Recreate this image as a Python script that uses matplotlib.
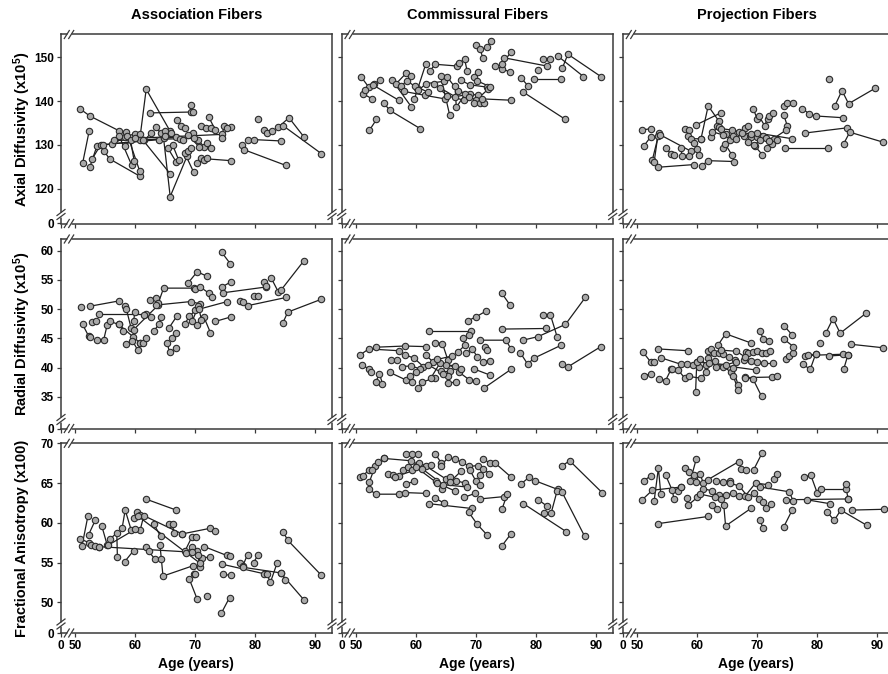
import matplotlib
matplotlib.use('Agg')
import matplotlib.pyplot as plt

plt.rcParams['font.family'] = ['Liberation Sans', 'DejaVu Sans']
plt.rcParams['font.weight'] = 'bold'
plt.rcParams['mathtext.fontset'] = 'custom'
plt.rcParams['mathtext.rm'] = 'Liberation Sans:bold'
plt.rcParams['mathtext.bf'] = 'Liberation Sans:bold'
plt.rcParams['mathtext.it'] = 'Liberation Sans:bold'

COLUMN_TITLES = ['Association Fibers', 'Commissural Fibers', 'Projection Fibers']
ROW_LABELS = [r'Axial Diffusivity (x10$^{5}$)', r'Radial Diffusivity (x10$^{5}$)',
              'Fractional Anisotropy (x100)']
X_LABEL = 'Age (years)'
X_TICKS = [50, 60, 70, 80, 90]
Y_TICKS = [[120, 130, 140, 150], [35, 40, 45, 50, 55, 60], [50, 55, 60, 65, 70]]
X_RANGE = (47.6, 92.77)
Y_RANGES = [(112.05, 155.2), (29.6, 62.0), (46.14, 70.0)]

# ---------------- Axial diffusivity ----------------
AD_ASSOC_AGE = [[50.8, 52.4, 57.3], [51.2, 52.3], [52.4, 53.6], [52.8, 54.2, 64.0], [54.7, 55.7, 60.8],
                [56.1, 58.3], [57.3, 59.4], [58.5, 60.7], [58.6, 59.9, 60.7], [58.3, 59.2, 59.8],
                [60.7, 61.8, 65.8], [62.4, 69.3], [61.4, 62.6], [63.4, 64.3, 65.0], [64.7, 65.8, 68.6],
                [61.2, 65.8], [65.4, 66.8], [67.0, 67.6, 68.2], [68.2, 69.7], [69.2, 69.6],
                [69.6, 70.4, 71.5], [70.9, 71.8, 72.6], [72.2, 73.3], [70.3, 71.0, 75.9], [71.5, 72.0],
                [71.9, 72.6], [60.0, 74.5, 76.0], [74.5, 74.7, 75.3], [77.7, 78.1, 85.1], [78.7, 79.8, 84.3],
                [80.4], [81.5, 81.9, 82.8], [83.8, 85.6, 88.1], [84.6, 91.0], [56.5, 69.8], [54.6, 66.8],
                [65.0, 66.0, 67.5], [68.0, 68.8, 70.6], [66.2, 67.2], [68.8, 69.2]]
AD_ASSOC_VAL = [[138.2, 136.6, 133.2], [125.8, 133.2], [124.9, 129.8], [126.8, 130.0, 131.2], [128.7, 126.8, 122.8],
                [130.1, 131.8], [132.0, 125.3], [132.9, 124.1], [132.0, 132.5, 132.5], [129.7, 131.0, 126.3],
                [131.0, 142.7, 133.1], [137.3, 137.5], [131.0, 132.6], [134.0, 132.6, 133.2], [131.5, 118.2, 127.4],
                [131.2, 123.4], [129.3, 126.1], [135.6, 134.3, 133.9], [128.2, 123.8], [139.0, 137.6],
                [132.7, 131.2, 129.5], [134.4, 133.9, 133.9], [136.4, 133.5], [125.9, 126.9, 126.4], [126.6, 127.1],
                [130.5, 129.2], [131.5, 132.4, 134.0], [131.6, 134.4, 133.9], [129.9, 128.9, 125.3], [131.2, 131.2, 130.9],
                [136.0], [133.5, 132.7, 133.1], [134.0, 136.2, 131.8], [134.4, 128.0], [131.0, 131.5], [130.0, 131.8],
                [132.0, 132.6, 131.4], [131.0, 132.2, 129.6], [130.0, 126.6], [128.5, 129.2]]

AD_COMM_AGE = [[50.8, 52.1, 54.0], [51.1, 52.7], [51.5, 53.0], [52.2, 53.4], [52.9, 57.1], [54.6, 55.6, 60.7],
               [56.0, 59.2], [56.7, 58.3, 59.1], [57.5, 58.5, 60.2], [59.7, 61.6], [58.0, 61.5, 64.8],
               [59.8, 62.0], [60.4, 61.7, 64.6], [62.3, 63.2, 66.9], [63.0, 65.2, 68.0], [64.0, 66.5, 69.0],
               [64.1, 65.6], [65.2, 67.0, 70.3], [66.5, 66.7, 68.2], [67.2, 68.1, 68.5], [67.5, 69.0, 71.8],
               [68.9, 70.0, 72.0], [69.7, 70.4], [69.7, 70.7, 71.3], [71.0, 75.8], [70.0, 70.7, 71.1],
               [71.9, 72.5], [70.2, 72.3], [73.1, 74.4, 75.6], [74.4, 75.8], [74.6, 81.8], [80.3],
               [77.5, 78.7], [79.6, 84.2], [77.8, 84.9], [81.2, 82.4], [83.6, 87.9], [84.4, 85.3, 90.8]]
AD_COMM_VAL = [[145.6, 143.2, 144.8], [141.7, 140.5], [142.5, 144.0], [133.3, 135.8], [143.6, 140.2], [139.6, 137.9, 133.7],
               [144.8, 138.7], [144.0, 146.3, 145.7], [143.5, 144.6, 143.0], [140.4, 148.4], [142.2, 141.3, 140.5],
               [143.5, 142.0], [142.5, 144.0, 144.5], [146.9, 148.4, 148.0], [144.0, 141.2, 140.2], [143.0, 141.0, 141.6],
               [145.7, 136.8], [145.5, 142.2, 141.3], [143.4, 138.6, 141.6], [148.8, 149.5, 146.9], [144.7, 143.7, 143.2],
               [141.0, 140.2, 142.7], [145.5, 146.7], [139.6, 139.5, 139.5], [140.5, 140.2], [152.8, 151.8, 149.9],
               [152.4, 153.7], [144.6, 143.3], [148.0, 147.4, 146.6], [148.5, 151.2], [149.9, 148.0], [147.0],
               [145.3, 143.4], [145.0, 145.0], [142.1, 135.8], [149.5, 149.5], [150.3, 145.6], [147.6, 150.7, 145.6]]

AD_PROJ_AGE = [[50.8, 52.2], [51.1, 52.2], [52.5, 53.6], [52.8, 53.4], [53.5, 59.4], [53.8, 59.0],
               [54.7, 55.6, 56.1], [57.2, 57.5, 58.6], [60.8, 61.7, 66.1], [57.9, 58.6], [59.7, 63.9],
               [58.4, 59.0, 60.6], [59.4, 59.9, 60.3], [60.6, 61.8, 63.6], [62.3, 63.3], [63.6, 64.0, 65.7, 67.0],
               [64.2, 64.6, 65.7], [64.8, 65.4], [68.0, 68.4], [67.8, 68.9, 70.0], [69.3, 70.0], [70.3, 71.2, 71.7],
               [72.0, 72.6], [70.9, 71.4, 72.8, 73.3], [69.6, 70.8], [71.6, 72.5], [74.4, 75.0, 76.0], [74.4, 75.0],
               [70.0, 75.8], [72.0, 74.8], [74.6, 81.8], [77.5, 78.6, 79.7, 84.3], [77.9, 85.0], [84.4, 85.4, 91.0],
               [81.9], [82.9, 84.1, 85.2, 89.6], [62.5, 64.2, 66.0], [66.5, 67.5, 69.0], [68.5, 69.4, 70.5]]
AD_PROJ_VAL = [[133.4, 133.7], [129.8, 131.8], [126.6, 132.7], [126.2, 132.0], [124.9, 125.5], [132.3, 128.5],
               [129.2, 128.0, 127.6], [129.2, 127.4, 127.4], [125.2, 126.4, 126.2], [133.7, 133.5], [134.5, 137.3],
               [132.0, 131.4, 131.4], [130.5, 129.0, 127.8], [131.4, 138.9, 135.4], [131.8, 134.3], [134.0, 133.7, 133.4, 133.0],
               [129.3, 130.3, 127.8], [132.5, 131.0], [133.9, 134.3], [132.0, 131.8, 131.9], [138.3, 135.8], [136.5, 134.4, 136.0],
               [136.6, 137.2], [132.0, 131.6, 131.4, 131.2], [129.7, 127.8], [129.2, 130.1], [138.9, 139.5, 139.5], [136.8, 134.3],
               [132.7, 131.4], [130.8, 133.4], [129.2, 129.2], [138.3, 137.1, 136.6, 136.2], [132.7, 133.9], [130.3, 132.9, 130.6],
               [145.1], [138.9, 142.4, 139.4, 142.9], [133.0, 132.3, 132.0], [131.4, 132.8, 132.5], [130.6, 130.0, 131.0]]

# ---------------- Radial diffusivity ----------------
RD_ASSOC_AGE = [[50.9], [52.4, 57.2], [51.2, 52.2, 52.5], [53.6, 54.7, 55.3], [55.8, 57.2, 58.0], [52.8, 53.5],
                [54.0, 61.8], [57.2, 59.6, 60.8], [58.2, 58.5, 59.3], [59.7, 59.9], [58.5, 59.5, 60.4],
                [60.8, 61.3, 61.8], [59.7, 63.8], [62.4, 63.4], [63.8, 64.7, 69.7], [63.1, 63.9, 64.3],
                [65.3, 65.7, 66.8], [66.1, 66.7], [65.6, 66.9], [63.4, 69.2, 70.8], [68.8, 70.3, 72.0],
                [70.0, 70.8, 72.3, 72.7], [68.2, 69.0, 70.0], [70.3, 71.4, 72.5], [69.5, 70.5, 71.0], [73.3, 76.0],
                [70.6, 75.3], [74.4, 75.8], [74.4, 76.0], [74.6, 81.8], [77.5, 77.9, 78.7, 85.1], [79.7, 80.4],
                [81.5, 81.8], [82.6, 83.8], [84.3, 88.1], [84.6, 85.4, 91.0], [61.5, 62.6]]
RD_ASSOC_VAL = [[50.3], [50.5, 51.4], [47.4, 45.4, 45.2], [44.7, 44.7, 47.3], [47.9, 47.4, 46.3], [47.8, 48.0],
                [49.1, 49.1], [47.4, 45.3, 44.2], [50.6, 50.0, 46.7], [47.9, 49.5], [44.1, 44.6, 43.0],
                [44.2, 44.3, 45.1], [46.5, 50.7], [51.6, 51.9], [51.0, 53.6, 53.6], [46.3, 47.4, 48.6],
                [44.2, 42.6, 43.3], [45.1, 45.9], [46.8, 48.8], [50.7, 51.3, 50.9], [54.5, 56.4, 55.6],
                [53.4, 53.8, 52.7, 52.0], [47.4, 48.8, 49.8], [47.3, 48.7, 46.0], [48.0, 50.6, 48.2], [47.9, 48.7],
                [50.0, 51.3], [59.7, 57.8], [53.8, 54.7], [52.8, 53.8], [51.4, 51.3, 50.6, 52.0], [52.3, 52.3],
                [54.6, 54.0], [55.4, 53.0], [53.3, 58.3], [47.7, 49.5, 51.7], [49.0, 48.6]]

RD_COMM_AGE = [[50.7, 52.1, 57.1], [53.3, 58.1, 61.7], [51.0, 52.2, 52.5], [53.3, 53.9, 54.4], [55.6, 58.3, 59.3],
               [55.9, 56.9], [58.2, 59.7, 61.2], [57.7, 59.2, 60.6], [60.3, 61.0, 63.1], [64.1, 65.6], [62.1, 69.2],
               [63.2, 64.4, 65.3], [67.0, 68.1], [61.6, 62.8], [65.3, 65.4, 66.6], [67.2, 68.9, 70.0], [71.3, 75.8],
               [67.8, 68.9], [68.6, 70.0, 71.7], [68.3, 69.4, 70.2], [71.1, 72.4], [69.6, 72.4], [70.7, 75.0, 75.8],
               [71.5, 71.9], [74.3, 75.6], [74.3, 81.7], [77.8, 80.3, 84.9, 88.2], [81.1, 82.4, 83.5],
               [77.4, 78.6, 79.6, 84.1], [84.3, 85.4, 90.8], [59.0, 62.0, 64.5], [62.5, 64.0, 67.5],
               [60.0, 63.5, 66.0], [65.0, 66.5]]
RD_COMM_VAL = [[42.2, 43.2, 42.9], [43.5, 43.7, 43.6], [40.5, 39.7, 39.2], [37.6, 39.0, 37.2], [39.2, 37.9, 37.6],
               [41.3, 41.3], [42.2, 41.6, 40.2], [40.2, 40.3, 39.8], [36.6, 37.5, 38.3], [39.5, 39.5], [46.3, 46.3],
               [44.3, 44.1, 41.3], [42.7, 43.8], [42.2, 41.0], [38.5, 37.3, 37.6], [39.2, 37.9, 37.7], [36.5, 39.7],
               [45.0, 45.6], [48.0, 48.7, 49.7], [42.5, 43.2, 41.8], [41.0, 41.2], [39.8, 38.7], [44.7, 44.7, 43.2],
               [43.5, 43.0], [52.7, 50.8], [46.6, 46.7], [44.7, 45.3, 47.4, 52.0], [49.0, 49.0, 45.3],
               [42.5, 40.6, 41.6, 43.8], [40.6, 40.2, 43.6], [38.5, 40.5, 39.0], [38.3, 40.8, 39.8],
               [39.2, 41.4, 42.0], [40.5, 40.3]]

RD_PROJ_AGE = [[50.9, 52.2, 52.8], [51.1, 52.3], [53.6, 54.7, 55.6], [53.5, 58.4], [53.9, 57.2, 58.3],
               [55.7, 56.8, 57.9], [58.6, 60.6, 61.4], [59.7, 59.9], [59.2, 60.2], [61.7, 62.2], [63.4, 64.7, 69.0],
               [61.8, 62.7, 63.6], [64.3, 65.2, 66.2], [63.1, 64.2, 65.6], [65.9, 66.8], [66.0, 66.8],
               [68.1, 68.5, 69.2], [69.9, 70.8, 71.5, 72.1], [70.4, 71.0, 71.9], [67.8, 69.0, 70.0], [71.1, 72.6],
               [67.9, 69.3, 70.7], [68.0, 72.5, 73.2], [59.9, 69.8], [74.7, 75.3, 76.0], [74.4, 75.8], [74.4, 76.0],
               [77.9, 79.7], [78.5, 84.3], [81.9, 85.1], [77.6, 78.8, 79.7], [80.4], [81.4, 82.6, 83.8, 88.1],
               [85.6, 91.0], [84.4, 85.1], [60.5, 61.5, 63.0], [62.0, 64.8, 66.5], [64.0, 66.5, 68.0]]
RD_PROJ_VAL = [[42.7, 41.0, 41.0], [38.6, 39.0], [38.1, 37.8, 39.7], [43.2, 42.9], [41.7, 40.6, 40.6],
               [39.8, 39.6, 38.2], [38.5, 38.2, 39.3], [35.9, 41.0], [40.4, 40.2], [42.9, 43.2], [43.8, 45.8, 44.2],
               [41.6, 42.5, 42.5], [42.4, 41.9, 41.3], [40.2, 40.2, 39.3], [40.0, 37.0], [38.5, 36.2],
               [42.7, 42.5, 42.6], [42.9, 42.5, 42.5, 42.9], [46.3, 44.9, 44.6], [41.3, 41.1, 41.0], [40.8, 40.8],
               [38.4, 38.0, 35.1], [38.3, 38.4, 38.6], [41.0, 39.6], [41.5, 42.0, 42.5], [47.2, 45.6], [44.9, 43.6],
               [42.0, 42.3], [42.1, 42.3], [42.0, 42.2], [40.6, 39.7, 42.3], [44.3], [45.9, 48.4, 45.9, 49.3],
               [44.0, 43.4], [39.8, 42.2], [41.5, 40.5, 41.2], [40.8, 40.5, 41.0], [43.0, 42.8, 41.8]]

# ---------------- Fractional anisotropy ----------------
FA_ASSOC_AGE = [[50.7, 53.9], [51.1, 52.1], [52.2, 52.6, 53.3], [52.2, 53.3], [54.4, 55.3], [55.8, 56.9, 57.0],
                [57.8, 58.3, 59.3], [58.2, 59.7], [59.7, 60.3, 60.8], [60.8, 61.4, 67.8], [61.7, 66.8],
                [61.8, 62.2, 63.2, 64.3], [63.1, 64.2], [64.1, 64.6, 69.6], [65.6, 66.2, 66.4], [68.3, 69.4, 70.1],
                [67.8, 72.4, 73.2], [69.0, 70.3], [69.7, 70.0], [71.9], [71.1, 72.5], [70.2, 70.8],
                [68.5, 69.5, 70.5], [71.5, 75.2, 75.8], [74.4, 81.4], [81.9, 82.5, 83.6], [74.6, 76.0], [74.3, 75.7],
                [77.5, 77.9, 78.7], [79.7, 80.4], [78.0, 84.2, 85.0], [84.2, 88.1], [84.6, 85.4, 91.0],
                [60.5, 70.8], [54.0, 69.5], [55.5, 60.0]]
FA_ASSOC_VAL = [[58.0, 57.0], [57.1, 60.9], [57.5, 57.2, 57.1], [58.5, 60.3], [59.6, 57.2], [58.0, 58.7, 55.7],
                [59.4, 61.6, 59.1], [55.1, 56.5], [60.6, 61.4, 61.0], [59.1, 60.9, 58.6], [63.0, 61.6],
                [57.0, 56.4, 55.5, 55.4], [59.8, 58.3], [57.2, 53.3, 54.6], [59.9, 59.9, 58.7], [56.5, 58.2, 58.2],
                [58.6, 59.3, 59.0], [52.9, 50.4], [53.5, 53.5], [50.8], [55.6, 55.7], [56.5, 54.5],
                [56.2, 57.0, 56.0], [57.0, 55.9, 55.8], [54.8, 53.6], [53.6, 52.5, 54.9], [53.5, 53.4], [48.6, 50.6],
                [55.0, 54.6, 56.0], [55.0, 55.9], [54.4, 53.7, 52.8], [53.7, 50.3], [58.9, 57.8, 53.4],
                [60.8, 54.9], [57.0, 56.3], [57.2, 59.2]]

FA_COMM_AGE = [[50.7, 51.1, 52.1], [52.2, 53.2], [52.7, 53.7, 54.6], [54.6, 59.2], [52.2, 53.3, 57.2],
               [58.2, 61.7], [55.4, 56.2, 57.1], [57.9, 58.6], [58.3, 59.3, 60.3], [58.3, 59.7], [59.4, 60.2, 60.8],
               [60.5, 61.7, 65.0], [63.2, 64.2], [64.2, 65.4], [66.5, 67.7, 68.9, 70.3], [71.2, 72.4], [73.2, 75.9],
               [63.3, 64.3], [65.6, 66.7, 68.1], [65.6, 67.5], [69.0, 70.0, 70.6], [70.6, 71.2, 72.2], [63.2, 64.6],
               [62.2, 69.3], [68.8, 70.2, 71.8], [68.0, 69.8], [70.6, 74.7], [74.3, 75.2], [74.3, 75.8],
               [77.5, 78.8], [79.8, 83.6], [82.5, 83.5], [84.3, 88.1], [77.9, 85.0], [80.4, 81.8], [81.3],
               [84.4, 85.6, 91.0], [60.0, 63.5, 66.5], [61.0, 64.5, 68.5], [56.5, 62.5]]
FA_COMM_VAL = [[65.7, 65.9, 66.6], [65.1, 67.2], [66.7, 67.6, 68.1], [68.1, 67.8], [64.2, 63.6, 63.6],
               [63.8, 63.7], [66.2, 66.0, 65.9], [66.6, 67.0], [68.7, 68.7, 68.6], [64.9, 65.2], [66.6, 67.3, 67.0],
               [67.5, 67.1, 65.5], [68.7, 67.5], [67.2, 68.3], [68.0, 67.6, 67.1, 67.2], [68.0, 67.5], [67.5, 65.7],
               [65.3, 64.3], [65.7, 65.3, 65.0], [65.1, 66.5], [66.6, 65.2, 64.8], [66.0, 66.8, 66.2], [63.1, 62.5],
               [62.4, 61.8], [61.3, 59.8, 58.5], [63.2, 63.7], [63.0, 63.3], [61.7, 63.6], [57.1, 58.6],
               [64.9, 65.7], [65.3, 64.2], [61.2, 64.0], [63.9, 58.3], [62.4, 58.9], [62.9, 62.1], [61.2],
               [67.2, 67.8, 63.8], [67.0, 65.0, 64.0], [66.8, 64.8, 64.5], [65.8, 67.3]]

FA_PROJ_AGE = [[50.8, 52.5, 57.3], [51.1, 52.2], [52.8, 53.5, 53.9], [53.5, 61.8], [54.7, 55.8, 56.1],
               [56.8, 57.3], [57.9, 58.6, 59.4], [58.8, 59.8], [59.7, 60.4, 61.0], [61.7, 66.9], [58.3, 58.4, 60.0],
               [62.4, 63.3], [64.4, 64.7, 68.9], [67.2, 68.1], [69.4, 70.8], [63.1, 64.3, 65.4],
               [63.6, 64.8, 65.9, 66.9], [68.0, 69.7, 71.7], [72.7, 73.3], [69.5, 70.3, 71.0], [70.4, 70.9],
               [71.5, 72.2], [70.5, 75.3, 76.0], [74.7, 85.1], [74.4, 75.8], [77.7, 78.9, 80.0], [80.6, 84.7],
               [84.7, 85.1], [85.7, 91.1], [78.2, 82.1], [81.6, 82.8, 83.9, 88.2], [61.0, 62.5, 64.0],
               [65.5, 67.0, 68.5], [60.5, 63.0]]
FA_PROJ_VAL = [[62.9, 64.1, 64.5], [65.3, 65.9], [62.8, 66.9, 63.6], [59.9, 60.8], [66.0, 64.1, 63.0],
               [64.0, 64.5], [66.9, 66.4, 66.0], [65.2, 68.0], [65.1, 66.2, 65.0], [65.4, 67.7], [63.1, 62.2, 63.2],
               [62.2, 61.7], [62.2, 59.6, 61.8], [66.8, 66.7], [66.7, 68.8], [65.3, 65.1, 65.3],
               [63.5, 63.5, 63.7, 63.4], [63.4, 65.0, 64.8], [65.5, 66.1], [63.8, 63.0, 62.6], [60.4, 59.4],
               [61.8, 62.4], [64.5, 63.9, 62.7], [62.9, 63.0], [59.5, 61.6], [65.7, 66.0, 63.7], [64.3, 64.3],
               [64.9, 63.0], [61.6, 61.7], [62.9, 62.4], [61.4, 60.3, 61.6, 59.7], [64.3, 64.0, 63.0],
               [65.0, 64.6, 63.2], [63.6, 63.2]]

PANELS = [[(AD_ASSOC_AGE, AD_ASSOC_VAL), (AD_COMM_AGE, AD_COMM_VAL), (AD_PROJ_AGE, AD_PROJ_VAL)],
          [(RD_ASSOC_AGE, RD_ASSOC_VAL), (RD_COMM_AGE, RD_COMM_VAL), (RD_PROJ_AGE, RD_PROJ_VAL)],
          [(FA_ASSOC_AGE, FA_ASSOC_VAL), (FA_COMM_AGE, FA_COMM_VAL), (FA_PROJ_AGE, FA_PROJ_VAL)]]

FW, FH = 888, 674
fig = plt.figure(figsize=(FW / 100, FH / 100), dpi=100)

col_left_px = [61, 341.7, 623]
col_w_px = 271
row_top_px = [34.5, 239, 443.3]
row_h_px = [189, 189.5, 189.7]

SPINE = '#3a3a3a'


def break_mark(ax, xa, ya, spine, wpx, hpx):
    """Draw a '//' axis-break mark on a spine at axes coords (xa, ya)."""
    kw = dict(transform=ax.transAxes, clip_on=False, zorder=10)
    if spine in ('left', 'right'):
        gap = 2.2 / hpx
        ax.plot([xa, xa], [ya - gap, ya + gap], color='white', lw=2.2, solid_capstyle='butt', **kw)
        for k in (-1, 1):
            yc = ya + k * 2.0 / hpx
            ax.plot([xa - 4 / wpx, xa + 4 / wpx], [yc - 3 / hpx, yc + 3 / hpx], color=SPINE, lw=0.9, **kw)
    else:
        gap = 2.2 / wpx
        ax.plot([xa - gap, xa + gap], [ya, ya], color='white', lw=2.2, solid_capstyle='butt', **kw)
        for k in (-1, 1):
            xc = xa + k * 2.2 / wpx
            ax.plot([xc - 2.5 / wpx, xc + 2.5 / wpx], [ya - 4 / hpx, ya + 4 / hpx], color=SPINE, lw=0.9, **kw)


for r in range(3):
    for c in range(3):
        left = col_left_px[c] / FW
        bottom = 1 - (row_top_px[r] + row_h_px[r]) / FH
        ax = fig.add_axes([left, bottom, col_w_px / FW, row_h_px[r] / FH])
        ages, vals = PANELS[r][c]
        for a, v in zip(ages, vals):
            ax.plot(a, v, '-', color='#1e1e1e', lw=0.9, zorder=2)
        for a, v in zip(ages, vals):
            ax.plot(a, v, 'o', ms=4.6, mfc='#a9a9a9', mec='#2a2a2a', mew=0.8, ls='none', zorder=3)
        ax.set_xlim(*X_RANGE)
        ax.set_ylim(*Y_RANGES[r])
        xt = [X_RANGE[0]] + X_TICKS
        yt = [Y_RANGES[r][0]] + Y_TICKS[r]
        ax.set_xticks(xt)
        ax.set_yticks(yt)
        if r == 2:
            ax.set_xticklabels(['0'] + [str(t) for t in X_TICKS], fontsize=8.5, fontweight='bold')
        else:
            ax.set_xticklabels([])
        if c == 0:
            ax.set_yticklabels(['0'] + [str(t) for t in Y_TICKS[r]], fontsize=8.5, fontweight='bold')
        else:
            ax.set_yticklabels([])
        ax.tick_params(direction='out', length=3, width=0.9, color=SPINE, pad=2)
        for s in ax.spines.values():
            s.set_color(SPINE)
            s.set_linewidth(1.1)
        wpx, hpx = col_w_px, row_h_px[r]
        break_mark(ax, 0, 9 / hpx, 'left', wpx, hpx)
        break_mark(ax, 8 / wpx, 0, 'bottom', wpx, hpx)
        break_mark(ax, 8 / wpx, 1, 'top', wpx, hpx)
        break_mark(ax, 1, 9 / hpx, 'right', wpx, hpx)

col_center_px = [196.5, 477.5, 757]
for c in range(3):
    fig.text(col_center_px[c] / FW, 1 - 15 / FH, COLUMN_TITLES[c], ha='center', va='center',
             fontsize=10.5, fontweight='bold')
    fig.text((col_center_px[c] - 1) / FW, 1 - 664 / FH, X_LABEL, ha='center', va='center',
             fontsize=10, fontweight='bold')
for r in range(3):
    yc = row_top_px[r] + row_h_px[r] / 2
    fig.text(22 / FW, 1 - yc / FH, ROW_LABELS[r], rotation=90, ha='center', va='center',
             fontsize=10.5, fontweight='bold')

fig.savefig('out.png', dpi=100)
